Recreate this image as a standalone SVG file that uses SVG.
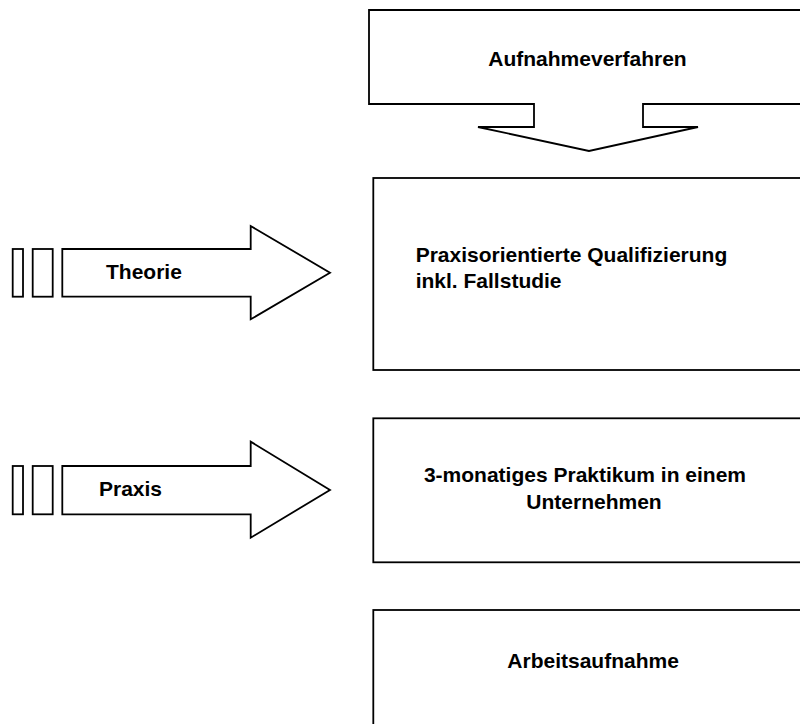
<svg xmlns="http://www.w3.org/2000/svg" width="800" height="724" viewBox="0 0 800 724">
  <style>
    .shape { fill: #ffffff; stroke: #000000; stroke-width: 1.8; stroke-linejoin: miter; }
    .label { font-family: "Liberation Sans", Arial, Helvetica, sans-serif; font-weight: bold; font-size: 21px; fill: #000000; }
    .mid { text-anchor: middle; }
  </style>
  <rect x="0" y="0" width="800" height="724" fill="#ffffff"/>

  <g id="node-aufnahmeverfahren">
    <polygon class="shape" points="369,10 812,10 812,104 643,104 643,127 698,127 589,151 478,127 534,127 534,104 369,104"/>
    <text class="label" x="488.3" y="66">Aufnahmeverfahren</text>
  </g>

  <g id="node-qualifizierung">
    <rect class="shape" x="373.3" y="178" width="440" height="192"/>
    <text class="label" x="415.7" y="261.7">Praxisorientierte Qualifizierung</text>
    <text class="label" x="415.7" y="288.3">inkl. Fallstudie</text>
  </g>

  <g id="node-praktikum">
    <rect class="shape" x="373.3" y="418.3" width="440" height="144"/>
    <text class="label mid" x="585" y="481.7">3-monatiges Praktikum in einem</text>
    <text class="label mid" x="594" y="509">Unternehmen</text>
  </g>

  <g id="node-arbeitsaufnahme">
    <rect class="shape" x="373.3" y="610" width="440" height="130"/>
    <text class="label" x="507.3" y="668.3">Arbeitsaufnahme</text>
  </g>

  <g id="connectors">
    <g id="arrow-theorie">
      <rect class="shape" x="12.7" y="249" width="10.3" height="47.7"/>
      <rect class="shape" x="32.7" y="249" width="20" height="47.7"/>
      <polygon class="shape" points="62.3,249 250.7,249 250.7,226 330,272.7 250.7,319.3 250.7,296.7 62.3,296.7"/>
      <text class="label" x="106" y="279.3">Theorie</text>
    </g>
    <g id="arrow-praxis">
      <rect class="shape" x="12.7" y="466" width="10.3" height="48.3"/>
      <rect class="shape" x="32.7" y="466" width="20" height="48.3"/>
      <polygon class="shape" points="62.3,466 250.7,466 250.7,441.7 330,490 250.7,537.7 250.7,514.3 62.3,514.3"/>
      <text class="label" x="99" y="496">Praxis</text>
    </g>
  </g>
</svg>
